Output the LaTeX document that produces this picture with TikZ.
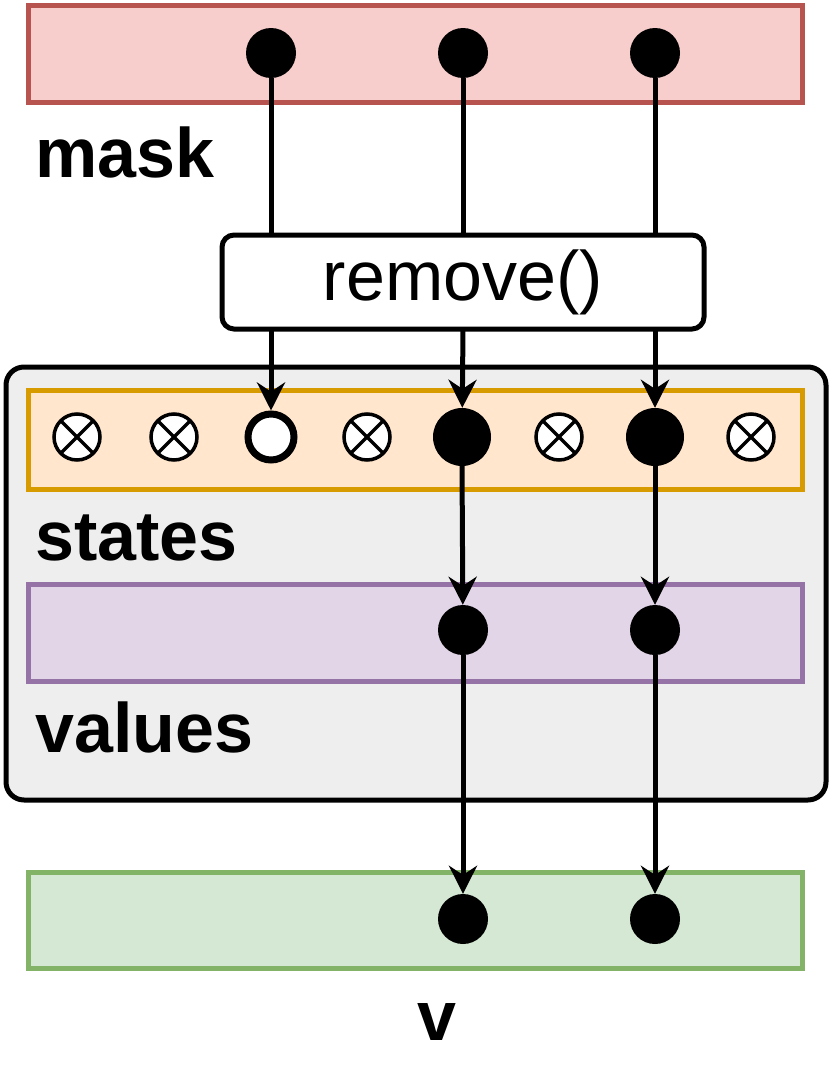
\documentclass[tikz,border=0pt]{standalone}
\usepackage{fontspec}
\setmainfont{Liberation Sans}
\usetikzlibrary{arrows.meta}
\definecolor{mfill}{HTML}{F8CECC}\definecolor{mline}{HTML}{B85450}
\definecolor{sfill}{HTML}{FFE6CC}\definecolor{sline}{HTML}{D79B00}
\definecolor{vfill}{HTML}{E1D5E7}\definecolor{vline}{HTML}{9673A6}
\definecolor{gfill}{HTML}{D5E8D4}\definecolor{gline}{HTML}{82B366}
\definecolor{cfill}{HTML}{EEEEEE}
\begin{document}
\begin{tikzpicture}[x=1pt,y=-1pt,
  band/.style={line width=5pt},
  dot/.style={circle,fill=black,inner sep=0pt,minimum size=#1},
  dot/.default=50pt,
  cross/.style={circle,draw,line width=3.5pt,inner sep=0pt,minimum size=46pt,fill=white},
  lab/.style={font=\fontsize{70}{76}\selectfont\bfseries,anchor=base west,inner sep=0pt},
  conn/.style={line width=5pt},
  arr/.style={line width=5pt,-{Stealth[length=28pt,width=28pt]}}]
\useasboundingbox (0,0) rectangle (830,1076);
% container
\draw[line width=5pt,fill=cfill,rounded corners=18pt] (6,367) rectangle (826,800);
% bands
\draw[band,draw=mline,fill=mfill] (28,5) rectangle (802,102);
\draw[band,draw=sline,fill=sfill] (28,390) rectangle (802,489);
\draw[band,draw=vline,fill=vfill] (28,584) rectangle (802,681);
\draw[band,draw=gline,fill=gfill] (28,872) rectangle (802,968);
% labels
\node[lab] (lmask) at (35,177) {mask};
\node[lab] (lstates) at (35,560) {states};
\node[lab] (lvalues) at (35,752) {values};
\node[lab,anchor=base] (lv) at (437,1040) {v};
% mask dots
\node[dot] (m1) at (271,53) {};
\node[dot] (m2) at (463,53) {};
\node[dot] (m3) at (655,53) {};
% remove box
\node[draw,line width=5pt,fill=white,rounded corners=12pt,minimum width=482pt,minimum height=94pt,inner sep=0pt,font=\fontsize{70}{76}\selectfont] (rm) at (463,282) {remove()};
\coordinate (t1) at (271,235);\coordinate (t2) at (463,235);\coordinate (t3) at (655,235);
\coordinate (b1) at (271,329);\coordinate (b2) at (463,329);\coordinate (b3) at (655,329);
\draw[conn] (m1) -- (t1); \draw[conn] (m2) -- (t2); \draw[conn] (m3) -- (t3);
% states
\foreach \n/\x in {s1/77,s2/174,s4/367,s6/559,s8/751}{
  \node[cross] (\n) at (\x,437) {};
  \draw[line width=3.5pt] ([shift={(-16pt,16pt)}]\n.center) -- ([shift={(16pt,-16pt)}]\n.center);
  \draw[line width=3.5pt] ([shift={(-16pt,-16pt)}]\n.center) -- ([shift={(16pt,16pt)}]\n.center);
}
\node[circle,draw,line width=7pt,fill=white,minimum size=46pt,inner sep=0pt] (s3) at (271,437) {};
\node[dot=58pt] (s5) at (462,437) {};
\node[dot=58pt] (s7) at (655,437) {};
\draw[arr] (b1) -- (s3); \draw[arr] (b2) -- (s5); \draw[arr] (b3) -- (s7);
% values
\node[dot] (v1) at (463,630) {};
\node[dot] (v2) at (655,630) {};
\coordinate (sb5) at (462,465);\coordinate (sb7) at (655,465);
\draw[arr] (sb5) -- (v1); \draw[arr] (sb7) -- (v2);
% v
\node[dot] (o1) at (463,919) {};
\node[dot] (o2) at (655,919) {};
\draw[arr] (v1) -- (o1); \draw[arr] (v2) -- (o2);
\end{tikzpicture}
\end{document}
